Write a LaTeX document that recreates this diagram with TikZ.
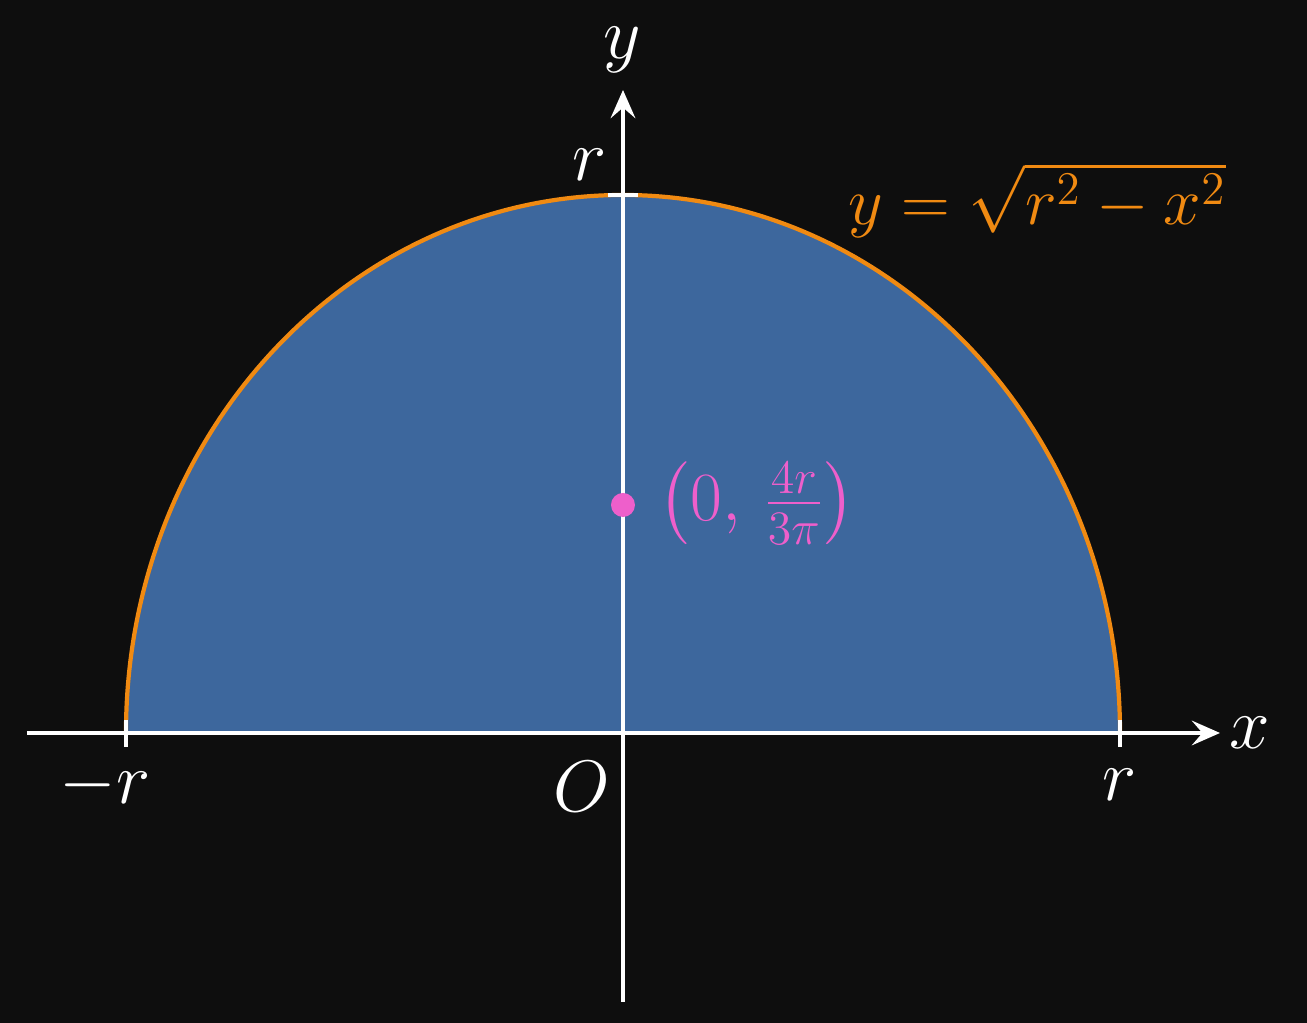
\documentclass[tikz,border=0pt]{standalone}
\usepackage{amsmath}
\usepackage{graphicx}
\definecolor{bgdark}{HTML}{0E0E0E}
\definecolor{areablue}{HTML}{3D679D}
\definecolor{curveorange}{HTML}{F08A12}
\definecolor{centroidpink}{HTML}{EE5FCB}
\tikzset{
  axis/.style={white, line width=1.2pt, -{Stealth[length=8pt,width=7pt,inset=3pt]}},
  lbl/.style={text=white, font=\fontsize{20.74}{25}\selectfont, inner sep=0pt}
}
\usetikzlibrary{arrows.meta}
\begin{document}
\begin{tikzpicture}[x=1cm, y=1cm]
  \fill[bgdark] (-6.23,-2.90) rectangle (6.84,7.33);
  \useasboundingbox (-6.23,-2.90) rectangle (6.84,7.33);

  % region under the curve
  \fill[areablue] (-4.97,0) arc[start angle=180, end angle=0, x radius=4.97, y radius=5.38] -- cycle;
  \draw[curveorange, line width=1.2pt] (-4.97,0) arc[start angle=180, end angle=0, x radius=4.97, y radius=5.38];

  \coordinate (xl) at (-5.96,0);
  \coordinate (xr) at (5.97,0);
  \coordinate (yb) at (0,-2.69);
  \coordinate (yt) at (0,6.43);
  \draw[axis] (xl) -- (xr);
  \draw[axis] (yb) -- (yt);

  % ticks
  \coordinate (ml1) at (-4.97,0.13);
  \coordinate (ml2) at (-4.97,-0.14);
  \coordinate (mr1) at (4.97,0.13);
  \coordinate (mr2) at (4.97,-0.14);
  \coordinate (mt1) at (-0.15,5.38);
  \coordinate (mt2) at (0.15,5.38);
  \draw[white, line width=1.2pt] (ml1) -- (ml2);
  \draw[white, line width=1.2pt] (mr1) -- (mr2);
  \draw[white, line width=1.2pt] (mt1) -- (mt2);

  \node[lbl] (X) at (6.27,0) {$x$};
  \node[lbl] (Y) at (-0.01,6.83) {$y$};
  \node[lbl] (O) at (-0.41,-0.54) {$O$};
  \node[lbl] (mr) at (-5.18,-0.52) {$-r$};
  \node[lbl] (pr) at (4.97,-0.52) {$r$};
  \node[lbl] (tr) at (-0.33,5.68) {$r$};

  \node[text=curveorange, font=\fontsize{20.74}{25}\selectfont, inner sep=0pt] (fn) at (4.14,5.33) {\scalebox{0.926}{$y=\sqrt{r^2-x^2}$}};

  \fill[centroidpink] (0,2.28) circle (0.12);
  \node[text=centroidpink, font=\fontsize{20.74}{25}\selectfont, inner sep=0pt, anchor=west] (cg) at (0.35,2.30) {\scalebox{0.948}{$\left(0,\,\frac{4r}{3\pi}\right)$}};
\end{tikzpicture}
\end{document}
